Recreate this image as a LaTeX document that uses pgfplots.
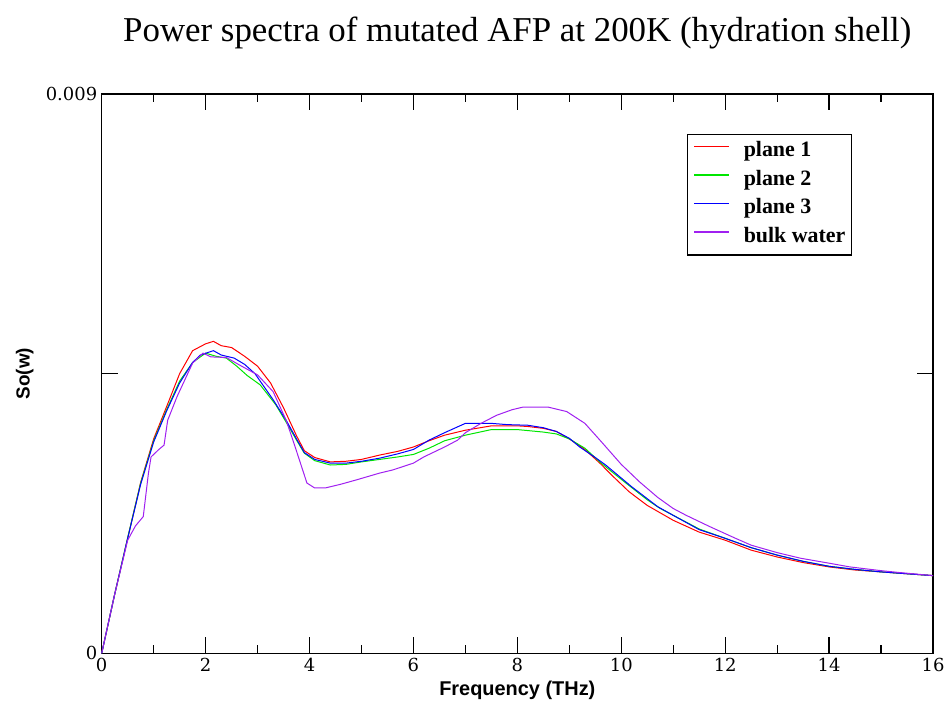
\documentclass[border=0pt]{standalone}
\usepackage{fontspec}
\setmainfont{Liberation Serif}
\newfontfamily\labelfont{Liberation Sans}
\newfontfamily\tickfont{DejaVu Serif}
\usepackage{pgfplots}
\pgfplotsset{compat=1.18}
\definecolor{cred}{RGB}{255,0,0}
\definecolor{cgreen}{RGB}{0,230,0}
\definecolor{cblue}{RGB}{0,0,255}
\definecolor{cpurple}{RGB}{160,32,240}
\begin{document}
\begin{tikzpicture}
\useasboundingbox (-101.7bp,-54.7bp) rectangle (849.3bp,653.3bp);
\begin{axis}[
  at={(0,0)}, anchor=south west,
  scale only axis, width=831.3bp, height=559.3bp,
  xmin=0, xmax=16, ymin=0, ymax=0.009,
  xtick={0,2,4,6,8,10,12,14,16},
  xticklabels={0,2,4,6,8,10,12,14,16},
  minor xtick={1,3,5,7,9,11,13,15},
  ytick={0,0.0045,0.009},
  yticklabels={0,,0.009},
  scaled y ticks=false,
  tick align=inside,
  xtick pos=both, ytick pos=both,
  major tick length=16bp, minor tick length=8bp,
  every tick/.style={black, line width=1.2bp},
  axis line style={line width=1.5bp},
  ticklabel style={font=\tickfont\fontsize{18}{22}\selectfont},
  xticklabel style={yshift=-1bp},
  yticklabel style={xshift=-1bp},
  xlabel={Frequency (THz)},
  ylabel={So(w)},
  xlabel style={at={(rel axis cs:0.5,0)}, anchor=center, yshift=-37bp, font=\labelfont\bfseries\fontsize{20}{23}\selectfont},
  ylabel style={at={([xshift=-77bp]rel axis cs:0,0.5)}, anchor=center, font=\labelfont\bfseries\fontsize{19}{22}\selectfont},
  legend cell align=left,
  legend style={at={(rel axis cs:0.9026,0.9285)}, anchor=north east, line width=1.2bp,
    font=\bfseries\fontsize{22}{25}\selectfont,
    nodes={inner sep=0bp, text height=14bp, text depth=5bp},
    row sep=9.5bp, column sep=14bp, inner xsep=6bp, inner ysep=8bp},
  legend image code/.code={\draw[#1, line width=1.4bp] plot coordinates {(0bp,5.5bp) (17.5bp,5.5bp) (35bp,5.5bp)};},
  clip=false,
]
\addplot[color=cred, line width=1bp] coordinates {
(0,0) (0.25,0.00095) (0.5,0.00185) (0.75,0.00275) (1.0,0.00345) (1.25,0.00397) (1.5,0.00450) (1.75,0.00487) (2.0,0.00498) (2.15,0.00502) (2.3,0.00495) (2.5,0.00492) (2.75,0.00478) (3.0,0.00462) (3.25,0.00435) (3.5,0.00395) (3.75,0.00350) (3.9,0.00326) (4.1,0.00315) (4.4,0.00308) (4.7,0.00309) (5.0,0.00312) (5.35,0.00319) (5.7,0.00325) (6.0,0.00332) (6.3,0.00342) (6.6,0.00351) (7.0,0.00359) (7.5,0.00366) (8.0,0.00366) (8.2,0.00365) (8.5,0.00362) (8.75,0.00357) (9.0,0.00345) (9.3,0.00328) (9.6,0.00305) (9.85,0.00284) (10.15,0.00260) (10.5,0.00238) (11.0,0.00214) (11.5,0.00195) (12.0,0.00182) (12.5,0.00166) (13.0,0.00155) (13.5,0.00146) (14.0,0.00139) (14.5,0.00134) (15.0,0.00131) (15.5,0.00128) (16,0.00125)
};
\addlegendentry{plane 1}
\addplot[color=cgreen, line width=1bp] coordinates {
(0,0) (0.25,0.00095) (0.5,0.00186) (0.75,0.00274) (1.0,0.00342) (1.25,0.00392) (1.5,0.00438) (1.75,0.00468) (2.0,0.00483) (2.2,0.00478) (2.4,0.00475) (2.6,0.00462) (2.8,0.00447) (3.05,0.00432) (3.35,0.00400) (3.55,0.00372) (3.75,0.00343) (3.9,0.00322) (4.1,0.00310) (4.4,0.00303) (4.7,0.00304) (5.0,0.00308) (5.35,0.00312) (5.7,0.00316) (6.0,0.00320) (6.3,0.00330) (6.6,0.00342) (7.0,0.00351) (7.5,0.00360) (8.0,0.00360) (8.5,0.00356) (8.75,0.00353) (9.0,0.00345) (9.3,0.00330) (9.6,0.00307) (9.85,0.00290) (10.15,0.00270) (10.5,0.00247) (10.75,0.00233) (11.0,0.00222) (11.5,0.00200) (12.0,0.00185) (12.5,0.00170) (13,0.00158) (13.5,0.00148) (14,0.00140) (14.5,0.00135) (15,0.00131) (15.5,0.00128) (16,0.00125)
};
\addlegendentry{plane 2}
\addplot[color=cblue, line width=1bp] coordinates {
(0,0) (0.25,0.00095) (0.5,0.00185) (0.75,0.00272) (1.0,0.00340) (1.25,0.00390) (1.5,0.00435) (1.75,0.00468) (1.9,0.00480) (2.15,0.00487) (2.3,0.00480) (2.55,0.00475) (2.75,0.00465) (2.95,0.00450) (3.3,0.00408) (3.55,0.00375) (3.75,0.00345) (3.9,0.00323) (4.1,0.00312) (4.4,0.00306) (4.7,0.00306) (5.0,0.00309) (5.35,0.00314) (5.7,0.00321) (6.0,0.00328) (6.3,0.00343) (6.6,0.00355) (7.0,0.00370) (7.5,0.00370) (7.8,0.00368) (8.2,0.00367) (8.5,0.00363) (8.75,0.00357) (9.0,0.00346) (9.2,0.00332) (9.5,0.00315) (9.7,0.00303) (10.0,0.00282) (10.2,0.00268) (10.7,0.00236) (11.0,0.00222) (11.5,0.00199) (12.0,0.00185) (12.5,0.00170) (13,0.00158) (13.5,0.00148) (14,0.00140) (14.5,0.00135) (15,0.00131) (15.5,0.00128) (16,0.00125)
};
\addlegendentry{plane 3}
\addplot[color=cpurple, line width=1bp] coordinates {
(0,0) (0.25,0.00095) (0.5,0.00182) (0.65,0.00205) (0.8,0.00220) (0.9,0.00290) (0.95,0.00316) (1.1,0.00328) (1.2,0.00335) (1.27,0.00375) (1.45,0.00413) (1.6,0.00440) (1.75,0.00467) (1.95,0.00483) (2.1,0.00477) (2.4,0.00476) (2.65,0.00464) (3.0,0.00448) (3.3,0.00421) (3.55,0.00375) (3.7,0.00338) (3.95,0.00274) (4.1,0.00266) (4.3,0.00266) (4.6,0.00272) (4.9,0.00279) (5.35,0.00290) (5.6,0.00295) (6.0,0.00306) (6.2,0.00316) (6.6,0.00332) (6.85,0.00343) (7.0,0.00355) (7.3,0.00370) (7.6,0.00383) (7.9,0.00392) (8.1,0.00396) (8.6,0.00396) (8.95,0.00389) (9.3,0.00370) (9.6,0.00342) (10.0,0.00304) (10.35,0.00276) (10.7,0.00251) (11.0,0.00233) (11.25,0.00222) (11.7,0.00204) (12.2,0.00185) (12.5,0.00174) (13.0,0.00162) (13.45,0.00153) (14.0,0.00145) (14.4,0.00139) (15.0,0.00133) (15.35,0.00130) (16,0.00125)
};
\addlegendentry{bulk water}
\node[anchor=base, font=\fontsize{35}{40}\selectfont] at ([yshift=53bp]rel axis cs:0.5,1) {Power spectra of mutated AFP at 200K (hydration shell)};
\end{axis}
\end{tikzpicture}
\end{document}
